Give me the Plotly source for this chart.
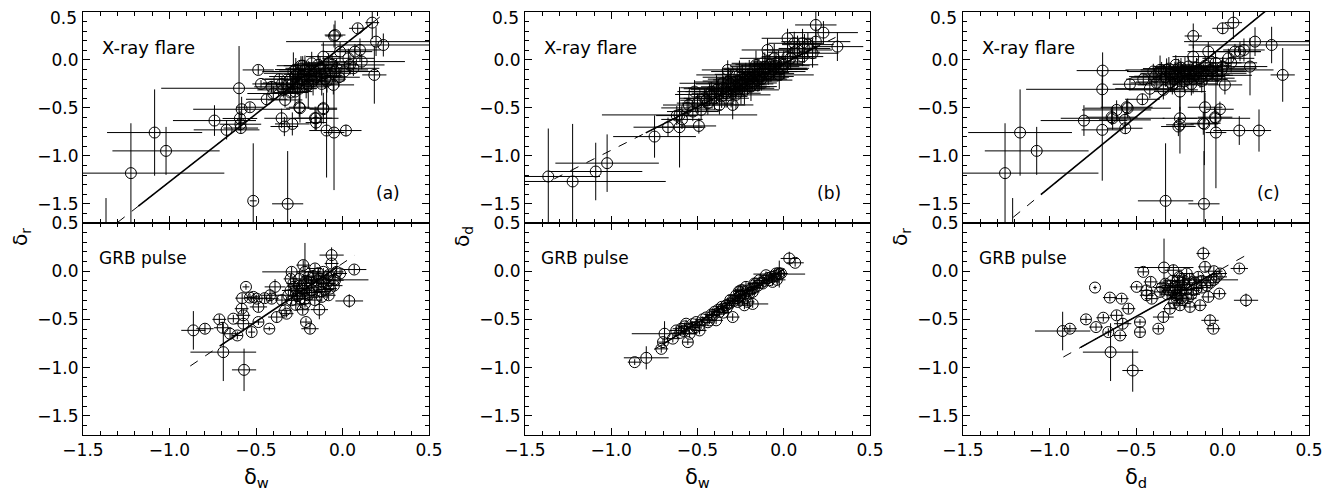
import plotly.graph_objects as go
from plotly.subplots import make_subplots

# ---------------- X-ray flares: panel (a) delta_w vs delta_r ----------------
fa_x = [-1.223, -1.086, -1.02, -1.367, -0.74, -0.67, -0.598, -0.593, -0.59, -0.588, -0.583, -0.535, -0.487, -0.516,
        -0.471, -0.438, -0.365, -0.352, -0.336, -0.317, -0.29, -0.25, -0.153, -0.153, -0.111, -0.092, -0.049, 0.02,
        -0.049, 0.088, 0.172, 0.194, 0.236, 0.184, 0.101, 0.111, 0.043, 0.063,
        -0.342, -0.332, -0.284, -0.274, -0.255, -0.236, -0.217, -0.188, -0.178, -0.159, -0.13, -0.111, -0.101, -0.072,
        -0.043, -0.034, -0.014, 0.034, 0.072, -0.274, -0.198, -0.053, -0.246, -0.159, -0.111, -0.043, -0.30, -0.26,
        -0.22, -0.20, -0.15, -0.10, -0.32, -0.24, -0.08, -0.12, -0.40, -0.41, 0.01,
        -0.29, -0.27, -0.25, -0.23, -0.21, -0.19, -0.17, -0.14, -0.12, -0.09, -0.06, -0.02, -0.35, -0.30]
fa_y = [-1.18, -0.757, -0.948, -1.95, -0.632, -0.729, -0.295, -0.61, -0.67, -0.71, -0.514, -0.493, -0.104, -1.469,
        -0.25, -0.41, -0.201, -0.608, -0.694, -1.50, -0.667, -0.493, -0.608, -0.653, -0.503, -0.736, -0.757, -0.736,
        0.25, 0.33, 0.389, 0.191, 0.156, -0.156, 0.104, -0.017, -0.052, -0.087,
        -0.312, -0.417, -0.121, -0.173, -0.139, -0.208, -0.104, -0.173, -0.035, -0.121, -0.087, 0.035, -0.139, -0.104,
        -0.121, -0.087, 0.087, 0.017, 0.087, -0.33, -0.26, -0.26, -0.503, -0.607, -0.514, 0.26, -0.20, -0.24,
        -0.15, -0.22, -0.18, -0.20, -0.26, -0.06, -0.03, -0.25, -0.35, -0.28, -0.12,
        -0.25, -0.10, -0.30, -0.06, -0.28, -0.12, -0.22, -0.05, -0.16, -0.22, -0.05, -0.18, -0.25, -0.34]
fa_xe = [0.54, 0.275, 0.31, 0.30, 0.24, 0.19, 0.45, 0.10, 0.12, 0.10, 0.28, 0.08, 0.09, 0.02,
         0.05, 0.12, 0.10, 0.10, 0.08, 0.09, 0.10, 0.06, 0.13, 0.06, 0.08, 0.10, 0.06, 0.09,
         0.05, 0.05, 0.04, 0.52, 0.36, 0.07, 0.12, 0.25, 0.20, 0.15,
         0.15, 0.10, 0.18, 0.15, 0.20, 0.12, 0.15, 0.18, 0.08, 0.25, 0.20, 0.10, 0.15, 0.22,
         0.25, 0.12, 0.10, 0.15, 0.10, 0.10, 0.15, 0.12, 0.08, 0.10, 0.08, 0.06, 0.15, 0.20,
         0.12, 0.10, 0.15, 0.12, 0.12, 0.10, 0.12, 0.10, 0.15, 0.10, 0.15,
         0.15, 0.12, 0.10, 0.15, 0.12, 0.20, 0.10, 0.15, 0.12, 0.10, 0.15, 0.12, 0.12, 0.10]
fa_ye = [0.52, 0.45, 0.25, 0.51, 0.16, 0.10, 0.44, 0.08, 0.07, 0.06, 0.13, 0.05, 0.05, 0.60,
         0.04, 0.06, 0.06, 0.10, 0.10, 0.55, 0.12, 0.10, 0.12, 0.08, 0.16, 0.49, 0.60, 0.06,
         0.12, 0.05, 0.17, 0.15, 0.12, 0.30, 0.12, 0.08, 0.10, 0.08,
         0.08, 0.08, 0.20, 0.08, 0.10, 0.10, 0.15, 0.12, 0.12, 0.10, 0.12, 0.15, 0.10, 0.08,
         0.12, 0.10, 0.10, 0.10, 0.08, 0.15, 0.25, 0.10, 0.15, 0.12, 0.08, 0.15, 0.10, 0.12,
         0.15, 0.10, 0.08, 0.10, 0.08, 0.10, 0.10, 0.12, 0.08, 0.06, 0.10,
         0.10, 0.12, 0.15, 0.10, 0.12, 0.10, 0.15, 0.10, 0.08, 0.12, 0.10, 0.10, 0.08, 0.10]

# ---------------- X-ray flares: panel (b) delta_w vs delta_d ----------------
fb_x = [-1.365, -1.224, -1.09, -1.024, -0.749, -0.671, -0.604, -0.604, -0.59, -0.517, -0.492, -0.527, -0.479, -0.44,
        -0.402, -0.373, -0.354, -0.334, -0.325, -0.305, -0.296, -0.277, -0.257, -0.248, -0.228, -0.209, -0.19, -0.171,
        -0.161, -0.142, -0.122, -0.103, -0.094, -0.074, -0.055, -0.045, -0.026, -0.016, 0.022, 0.022, 0.061, 0.08,
        0.109, 0.109, 0.167, 0.186, 0.186, 0.23, 0.311,
        -0.38, -0.36, -0.32, -0.28, -0.24, -0.20, -0.18, -0.15, -0.13, -0.08, -0.06, -0.42, -0.46, -0.56,
        -0.45, -0.43, -0.39, -0.35, -0.33, -0.31, -0.29, -0.27, -0.26, -0.24, -0.22, -0.21, -0.19, -0.17,
        -0.15, -0.12, -0.11, -0.09, -0.05, -0.03, 0.00, 0.04, 0.06, 0.12, 0.14, -0.50, -0.55, -0.62]
fb_y = [-1.215, -1.267, -1.163, -1.076, -0.799, -0.701, -0.701, -0.573, -0.62, -0.33, -0.688, -0.538, -0.521, -0.451,
        -0.399, -0.469, -0.243, -0.347, -0.104, -0.295, -0.469, -0.364, -0.156, -0.26, -0.312, -0.208, -0.278, -0.121,
        -0.052, -0.173, -0.035, -0.087, 0.104, -0.121, 0.017, -0.035, -0.156, -0.087, 0.035, 0.226, 0.174, 0.104,
        0.174, 0.035, 0.07, 0.191, 0.365, 0.285, 0.139,
        -0.30, -0.38, -0.23, -0.28, -0.20, -0.15, -0.22, -0.10, -0.20, -0.05, -0.10, -0.33, -0.40, -0.50,
        -0.42, -0.36, -0.31, -0.29, -0.33, -0.25, -0.32, -0.22, -0.30, -0.24, -0.18, -0.25, -0.19, -0.17,
        -0.21, -0.13, -0.07, -0.14, -0.06, -0.02, -0.05, 0.02, 0.08, 0.12, 0.16, -0.45, -0.47, -0.58]
fb_xe = [0.30, 0.54, 0.27, 0.30, 0.24, 0.20, 0.15, 0.45, 0.12, 0.10, 0.10, 0.15, 0.12, 0.15,
         0.20, 0.15, 0.25, 0.20, 0.15, 0.25, 0.12, 0.20, 0.25, 0.15, 0.20, 0.20, 0.15, 0.25,
         0.15, 0.20, 0.18, 0.25, 0.15, 0.20, 0.20, 0.15, 0.20, 0.15, 0.15, 0.15, 0.15, 0.20,
         0.12, 0.12, 0.15, 0.20, 0.12, 0.20, 0.15,
         0.20, 0.15, 0.20, 0.20, 0.20, 0.20, 0.15, 0.20, 0.15, 0.20, 0.20, 0.15, 0.12, 0.15,
         0.15, 0.20, 0.15, 0.25, 0.15, 0.20, 0.15, 0.20, 0.15, 0.20, 0.25, 0.15, 0.20, 0.15,
         0.20, 0.15, 0.20, 0.15, 0.20, 0.15, 0.20, 0.15, 0.15, 0.15, 0.15, 0.12, 0.15, 0.12]
fb_ye = [0.50, 0.60, 0.30, 0.30, 0.22, 0.10, 0.42, 0.25, 0.10, 0.12, 0.08, 0.10, 0.10, 0.12,
         0.12, 0.10, 0.15, 0.15, 0.10, 0.20, 0.15, 0.15, 0.15, 0.20, 0.15, 0.12, 0.15, 0.12,
         0.15, 0.15, 0.12, 0.12, 0.12, 0.10, 0.15, 0.12, 0.15, 0.12, 0.15, 0.10, 0.12, 0.15,
         0.15, 0.10, 0.15, 0.15, 0.15, 0.12, 0.15,
         0.10, 0.12, 0.15, 0.12, 0.15, 0.15, 0.10, 0.12, 0.12, 0.10, 0.10, 0.10, 0.10, 0.10,
         0.10, 0.12, 0.15, 0.12, 0.10, 0.15, 0.12, 0.15, 0.10, 0.12, 0.15, 0.12, 0.10, 0.15,
         0.12, 0.10, 0.15, 0.12, 0.10, 0.12, 0.15, 0.12, 0.12, 0.15, 0.12, 0.10, 0.12, 0.10]

# ---------------- X-ray flares: panel (c) delta_d vs delta_r ----------------
fc_x = [-1.257, -1.17, -1.074, -1.213, -0.801, -0.693, -0.695, -0.695, -0.635, -0.612, -0.564, -0.562, -0.548, -0.535,
        -0.458, -0.463, -0.39, -0.361, -0.323, -0.329, -0.246, -0.246, -0.169, -0.107, -0.101, -0.105, -0.038, -0.015,
        -0.04, 0.014, 0.001, 0.063, 0.097, 0.188, 0.284, 0.348, 0.211, 0.159, 0.124,
        -0.352, -0.304, -0.275, -0.255, -0.236, -0.217, -0.198, -0.169, -0.159, -0.14, -0.111, -0.082, -0.072, -0.053,
        -0.005, 0.034, 0.072, 0.101, -0.342, -0.246, -0.554, -0.641, -0.255, -0.111, -0.043, -0.30, -0.28, -0.20,
        -0.18, -0.13, -0.10, -0.27, -0.38, -0.42, -0.03, 0.05,
        -0.33, -0.31, -0.29, -0.26, -0.24, -0.22, -0.19, -0.17, -0.15, -0.12, -0.09, -0.06, -0.04, 0.00, -0.40]
fc_y = [-1.18, -0.757, -0.948, -1.95, -0.632, -0.111, -0.306, -0.729, -0.608, -0.521, -0.625, -0.712, -0.503, -0.253,
        -0.201, -0.41, -0.174, -0.104, -0.104, -1.469, -0.676, -0.608, 0.25, -1.50, -0.493, -0.667, -0.757, -0.514,
        -0.608, -0.26, 0.33, 0.389, -0.736, 0.191, 0.156, -0.156, -0.736, -0.069, 0.104,
        -0.121, -0.156, -0.139, -0.087, -0.173, -0.121, -0.069, 0.035, -0.156, -0.104, -0.139, 0.087, -0.104, -0.087,
        -0.104, 0.017, 0.087, 0.087, -0.312, -0.33, -0.493, -0.597, -0.694, -0.66, -0.597, -0.23, -0.20, -0.20,
        -0.25, -0.19, -0.06, -0.05, -0.24, -0.30, -0.16, -0.03,
        -0.18, -0.09, -0.26, -0.17, -0.08, -0.22, -0.14, -0.20, -0.08, -0.22, -0.16, -0.12, -0.03, -0.07, -0.12]
fc_xe = [0.54, 0.30, 0.30, 0.30, 0.25, 0.15, 0.44, 0.12, 0.30, 0.20, 0.15, 0.10, 0.25, 0.10,
         0.10, 0.10, 0.15, 0.20, 0.15, 0.16, 0.08, 0.10, 0.05, 0.09, 0.10, 0.08, 0.06, 0.08,
         0.20, 0.10, 0.06, 0.05, 0.15, 0.41, 0.48, 0.07, 0.07, 0.10, 0.12,
         0.20, 0.15, 0.20, 0.15, 0.25, 0.15, 0.20, 0.12, 0.20, 0.15, 0.25, 0.12, 0.20, 0.25,
         0.30, 0.15, 0.15, 0.12, 0.20, 0.15, 0.15, 0.15, 0.10, 0.10, 0.10, 0.20, 0.15, 0.20,
         0.15, 0.20, 0.15, 0.10, 0.15, 0.20, 0.20, 0.15,
         0.20, 0.15, 0.20, 0.25, 0.15, 0.20, 0.15, 0.20, 0.15, 0.20, 0.15, 0.20, 0.15, 0.20, 0.15]
fc_ye = [0.52, 0.45, 0.25, 0.51, 0.16, 0.19, 0.20, 0.53, 0.12, 0.10, 0.08, 0.06, 0.10, 0.06,
         0.06, 0.06, 0.08, 0.15, 0.12, 0.60, 0.30, 0.12, 0.13, 0.55, 0.15, 0.43, 0.58, 0.08,
         0.10, 0.10, 0.06, 0.17, 0.15, 0.15, 0.19, 0.28, 0.22, 0.30, 0.12,
         0.10, 0.10, 0.12, 0.10, 0.12, 0.15, 0.10, 0.12, 0.10, 0.12, 0.10, 0.10, 0.10, 0.10,
         0.10, 0.10, 0.08, 0.10, 0.10, 0.20, 0.08, 0.08, 0.10, 0.12, 0.10, 0.10, 0.12, 0.10,
         0.12, 0.10, 0.10, 0.10, 0.08, 0.10, 0.10, 0.10,
         0.10, 0.12, 0.10, 0.12, 0.10, 0.12, 0.10, 0.15, 0.10, 0.12, 0.10, 0.10, 0.12, 0.10, 0.08]

# ---------------- GRB pulses: panel (a) delta_w vs delta_r ----------------
ga_x = [-0.862, -0.795, -0.712, -0.693, -0.689, -0.65, -0.631, -0.608, -0.583, -0.573, -0.573, -0.569, -0.558, -0.535,
        -0.525, -0.515, -0.496, -0.486, -0.486, -0.423, -0.419, -0.409, -0.39, -0.38, -0.332, -0.323, -0.313, -0.294,
        -0.294, -0.284, -0.265, -0.246, -0.227, -0.217, -0.217, -0.211, -0.207, -0.197, -0.188, -0.178, -0.159, -0.149,
        -0.14, -0.134, -0.12, -0.111, -0.091, -0.082, -0.072, -0.063, -0.063, -0.043, -0.034, -0.014, 0.039, 0.068,
        -0.30, -0.25, -0.24, -0.20, -0.18, -0.16, -0.13, -0.10, -0.27, -0.23, -0.05,
        -0.28, -0.26, -0.25, -0.23, -0.22, -0.21, -0.19, -0.17, -0.16, -0.14, -0.12, -0.11, -0.09, -0.08,
        -0.05, -0.30, -0.35, -0.45, -0.58]
ga_y = [-0.614, -0.597, -0.5, -0.587, -0.84, -0.649, -0.493, -0.667, -0.389, -0.458, -0.545, -1.024, -0.163, -0.274,
        -0.632, -0.267, -0.285, -0.371, -0.528, -0.597, -0.25, -0.285, -0.163, -0.476, -0.406, -0.441, -0.25, -0.007,
        -0.302, -0.128, -0.198, -0.285, 0.063, -0.007, -0.337, -0.528, -0.128, -0.059, -0.597, -0.198, 0.028, -0.094,
        -0.163, -0.399, -0.267, -0.007, -0.128, -0.042, -0.181, 0.167, 0.08, -0.094, -0.007, -0.024, -0.309, 0.017,
        -0.20, -0.15, -0.23, -0.25, -0.12, -0.22, -0.08, -0.19, -0.35, -0.40, -0.09,
        -0.16, -0.26, -0.08, -0.18, -0.29, -0.10, -0.22, -0.05, -0.30, -0.02, -0.21, -0.12, -0.06, -0.25,
        -0.15, -0.08, -0.30, -0.28, -0.28]
ga_xe = [0.07, 0.05, 0.04, 0.05, 0.19, 0.04, 0.03, 0.03, 0.04, 0.04, 0.05, 0.07, 0.02, 0.03,
         0.02, 0.03, 0.04, 0.05, 0.03, 0.03, 0.05, 0.04, 0.06, 0.05, 0.04, 0.04, 0.06, 0.17,
         0.04, 0.04, 0.05, 0.04, 0.04, 0.05, 0.03, 0.03, 0.05, 0.04, 0.05, 0.04, 0.04, 0.04,
         0.04, 0.05, 0.04, 0.04, 0.05, 0.04, 0.04, 0.07, 0.04, 0.05, 0.04, 0.04, 0.08, 0.07,
         0.05, 0.04, 0.05, 0.04, 0.04, 0.05, 0.04, 0.05, 0.04, 0.04, 0.20,
         0.04, 0.05, 0.04, 0.04, 0.05, 0.04, 0.04, 0.05, 0.04, 0.04, 0.05, 0.04, 0.04, 0.04,
         0.05, 0.04, 0.04, 0.04, 0.04]
ga_ye = [0.20, 0.05, 0.05, 0.06, 0.30, 0.05, 0.04, 0.04, 0.05, 0.06, 0.08, 0.22, 0.03, 0.04,
         0.05, 0.04, 0.04, 0.05, 0.03, 0.02, 0.06, 0.05, 0.08, 0.06, 0.05, 0.04, 0.06, 0.05,
         0.04, 0.05, 0.06, 0.05, 0.05, 0.30, 0.04, 0.04, 0.06, 0.06, 0.05, 0.05, 0.05, 0.05,
         0.05, 0.10, 0.05, 0.04, 0.05, 0.05, 0.04, 0.08, 0.05, 0.05, 0.04, 0.05, 0.07, 0.05,
         0.05, 0.06, 0.05, 0.05, 0.06, 0.05, 0.05, 0.06, 0.05, 0.05, 0.05,
         0.05, 0.06, 0.05, 0.05, 0.06, 0.05, 0.05, 0.06, 0.05, 0.05, 0.06, 0.05, 0.05, 0.05,
         0.05, 0.05, 0.05, 0.05, 0.05]

# ---------------- GRB pulses: panel (b) delta_w vs delta_d ----------------
gb_x = [-0.864, -0.797, -0.71, -0.70, -0.691, -0.643, -0.623, -0.594, -0.575, -0.566, -0.556, -0.546, -0.527, -0.508,
        -0.488, -0.488, -0.431, -0.411, -0.392, -0.373, -0.354, -0.334, -0.296, -0.315, -0.296, -0.276, -0.266, -0.257,
        -0.248, -0.238, -0.228, -0.219, -0.209, -0.2, -0.18, -0.17, -0.161, -0.142, -0.122, -0.103, -0.084, -0.065,
        -0.045, -0.016, 0.032, 0.066, -0.026, -0.18, -0.04,
        -0.60, -0.58, -0.53, -0.51, -0.47, -0.45, -0.42, -0.40, -0.38, -0.36, -0.33, -0.31, -0.29, -0.27,
        -0.25, -0.23, -0.21, -0.19, -0.17, -0.15, -0.13, -0.11, -0.09, -0.07, -0.05, -0.03, -0.22, -0.26,
        -0.35, -0.44]
gb_y = [-0.944, -0.899, -0.806, -0.736, -0.649, -0.70, -0.615, -0.597, -0.573, -0.545, -0.736, -0.649, -0.587, -0.528,
        -0.562, -0.615, -0.51, -0.458, -0.51, -0.424, -0.389, -0.354, -0.476, -0.337, -0.302, -0.25, -0.319, -0.267,
        -0.198, -0.198, -0.354, -0.163, -0.319, -0.233, -0.215, -0.128, -0.128, -0.094, -0.128, -0.042, -0.094, -0.111,
        -0.024, -0.024, 0.132, 0.087, -0.03, -0.34, -0.09,
        -0.64, -0.62, -0.55, -0.58, -0.50, -0.48, -0.45, -0.42, -0.40, -0.37, -0.38, -0.30, -0.31, -0.28,
        -0.25, -0.24, -0.20, -0.19, -0.17, -0.15, -0.12, -0.10, -0.07, -0.06, -0.05, -0.02, -0.28, -0.21,
        -0.43, -0.53]
gb_xe = [0.04, 0.13, 0.04, 0.03, 0.19, 0.04, 0.04, 0.05, 0.04, 0.04, 0.03, 0.04, 0.04, 0.04,
         0.04, 0.04, 0.04, 0.04, 0.04, 0.05, 0.04, 0.04, 0.04, 0.04, 0.04, 0.05, 0.04, 0.04,
         0.04, 0.04, 0.04, 0.05, 0.04, 0.04, 0.04, 0.04, 0.04, 0.04, 0.04, 0.04, 0.04, 0.04,
         0.04, 0.04, 0.05, 0.05, 0.15, 0.09, 0.05,
         0.04, 0.03, 0.04, 0.03, 0.04, 0.03, 0.04, 0.03, 0.04, 0.03, 0.04, 0.03, 0.04, 0.03,
         0.04, 0.03, 0.04, 0.03, 0.04, 0.03, 0.04, 0.03, 0.04, 0.03, 0.04, 0.03, 0.04, 0.03,
         0.04, 0.03]
gb_ye = [0.03, 0.12, 0.04, 0.04, 0.13, 0.04, 0.04, 0.04, 0.04, 0.04, 0.03, 0.04, 0.04, 0.04,
         0.04, 0.04, 0.04, 0.04, 0.04, 0.04, 0.04, 0.04, 0.04, 0.04, 0.04, 0.04, 0.04, 0.04,
         0.04, 0.04, 0.04, 0.05, 0.04, 0.04, 0.04, 0.04, 0.04, 0.04, 0.04, 0.04, 0.04, 0.04,
         0.04, 0.04, 0.07, 0.04, 0.14, 0.04, 0.04,
         0.03, 0.04, 0.03, 0.04, 0.03, 0.04, 0.03, 0.04, 0.03, 0.04, 0.03, 0.04, 0.03, 0.04,
         0.03, 0.04, 0.03, 0.04, 0.03, 0.04, 0.03, 0.04, 0.03, 0.04, 0.03, 0.04, 0.03, 0.04,
         0.03, 0.04]

# ---------------- GRB pulses: panel (c) delta_d vs delta_r ----------------
gc_x = [-0.924, -0.882, -0.789, -0.731, -0.737, -0.689, -0.66, -0.647, -0.651, -0.612, -0.592, -0.583, -0.577, -0.544,
        -0.519, -0.496, -0.477, -0.477, -0.458, -0.438, -0.415, -0.409, -0.371, -0.361, -0.342, -0.338, -0.304, -0.284,
        -0.275, -0.265, -0.25, -0.246, -0.226, -0.207, -0.188, -0.169, -0.14, -0.13, -0.111, -0.101, -0.082, -0.072,
        -0.053, -0.034, -0.018, -0.014, 0.097, 0.136,
        -0.30, -0.26, -0.24, -0.22, -0.28, -0.20, -0.16, -0.12, -0.32, -0.23, -0.05,
        -0.33, -0.31, -0.29, -0.27, -0.26, -0.25, -0.24, -0.23, -0.21, -0.19, -0.18, -0.15, -0.12, -0.09,
        -0.07, -0.28, -0.35, -0.44, -0.05]
gc_y = [-0.621, -0.597, -0.5, -0.58, -0.17, -0.483, -0.632, -0.84, -0.274, -0.458, -0.667, -0.285, -0.545, -0.389,
        -1.031, -0.163, -0.528, -0.632, -0.007, -0.25, -0.111, -0.285, -0.597, -0.215, -0.476, 0.038, -0.389, 0.01,
        -0.163, -0.285, -0.233, -0.354, -0.094, -0.024, -0.371, -0.198, -0.059, -0.354, 0.184, 0.045, -0.267, -0.51,
        -0.597, -0.059, -0.233, -0.024, 0.028, -0.302,
        -0.15, -0.10, -0.20, -0.14, -0.22, -0.28, -0.12, -0.17, -0.24, -0.30, -0.09,
        -0.13, -0.20, -0.10, -0.25, -0.17, -0.06, -0.28, -0.12, -0.19, -0.08, -0.24, -0.18, -0.10, -0.15,
        -0.12, -0.33, -0.17, -0.20, 0.00]
gc_xe = [0.16, 0.04, 0.03, 0.04, 0.01, 0.04, 0.02, 0.16, 0.04, 0.04, 0.04, 0.04, 0.05, 0.04,
         0.06, 0.04, 0.03, 0.03, 0.03, 0.04, 0.04, 0.04, 0.03, 0.05, 0.06, 0.17, 0.04, 0.05,
         0.05, 0.05, 0.05, 0.04, 0.05, 0.04, 0.04, 0.04, 0.05, 0.04, 0.04, 0.04, 0.04, 0.05,
         0.04, 0.06, 0.04, 0.04, 0.05, 0.07,
         0.05, 0.05, 0.04, 0.05, 0.04, 0.05, 0.04, 0.05, 0.04, 0.04, 0.14,
         0.05, 0.04, 0.05, 0.04, 0.05, 0.04, 0.05, 0.04, 0.05, 0.04, 0.05, 0.04, 0.05, 0.04,
         0.05, 0.04, 0.05, 0.04, 0.05]
gc_ye = [0.20, 0.04, 0.04, 0.04, 0.02, 0.04, 0.04, 0.30, 0.04, 0.05, 0.04, 0.04, 0.06, 0.05,
         0.22, 0.03, 0.03, 0.05, 0.04, 0.05, 0.05, 0.05, 0.04, 0.05, 0.06, 0.30, 0.05, 0.06,
         0.05, 0.06, 0.05, 0.05, 0.06, 0.05, 0.05, 0.05, 0.05, 0.05, 0.07, 0.05, 0.05, 0.06,
         0.04, 0.05, 0.04, 0.05, 0.04, 0.07,
         0.05, 0.05, 0.05, 0.05, 0.05, 0.05, 0.05, 0.05, 0.05, 0.05, 0.05,
         0.05, 0.06, 0.05, 0.06, 0.05, 0.06, 0.05, 0.06, 0.05, 0.06, 0.05, 0.06, 0.05, 0.06,
         0.05, 0.06, 0.05, 0.06, 0.05]

# ---------------- fitted lines: y = intercept + slope * x ----------------
fit_intercept = [0.143, -0.036, 0.143, 0.080, 0.020, 0.029]
fit_slope = [1.413, 0.905, 1.474, 1.209, 1.109, 1.000]
fit_dash_range = [(-1.30, 0.26), (-1.33, 0.30), (-1.21, 0.25), (-0.88, 0.07), (-0.75, 0.05), (-0.92, 0.14)]
fit_solid_range = [(-1.18, 0.17), (-0.80, 0.20), (-1.05, 0.25), (-0.71, -0.03), (-0.70, 0.00), (-0.82, -0.05)]

panel_letters = ["(a)", "(b)", "(c)"]
x_titles = ["δ<sub>w</sub>", "δ<sub>w</sub>", "δ<sub>d</sub>"]
y_titles = ["δ<sub>r</sub>", "δ<sub>d</sub>", "δ<sub>r</sub>"]
x_ticks = [-1.5, -1.0, -0.5, 0.0, 0.5]
y_ticks = [-1.5, -1.0, -0.5, 0.0, 0.5]

panels = [
    (1, 1, fa_x, fa_y, fa_xe, fa_ye), (1, 2, fb_x, fb_y, fb_xe, fb_ye), (1, 3, fc_x, fc_y, fc_xe, fc_ye),
    (2, 1, ga_x, ga_y, ga_xe, ga_ye), (2, 2, gb_x, gb_y, gb_xe, gb_ye), (2, 3, gc_x, gc_y, gc_xe, gc_ye),
]

# the page body adds an 8 px offset; work in screenshot pixels and convert
OFF = 8
W, H = 1334 - OFF, 496 - OFF
col_px = [(83, 429), (525, 870), (963, 1309)]
top_px, mid_px, bot_px = 12, 223, 435


def px_x(p):
    return (p - OFF) / W


def px_y(p):
    return 1 - (p - OFF) / H


def fmt(v):
    return f"{v:.1f}".replace("-", "\u2212")


fig = make_subplots(rows=2, cols=3)
FONT = "DejaVu Sans"

for i, (r, c, x, y, xe, ye) in enumerate(panels):
    fig.add_trace(go.Scatter(
        x=x, y=y, mode="markers",
        marker=dict(symbol="circle-open", size=11, color="black", line=dict(width=1, color="black")),
        error_x=dict(type="data", array=xe, visible=True, color="black", thickness=1, width=0),
        error_y=dict(type="data", array=ye, visible=True, color="black", thickness=1, width=0),
        showlegend=False, hoverinfo="skip"), row=r, col=c)
    b, a = fit_slope[i], fit_intercept[i]
    d0, d1 = fit_dash_range[i]
    s0, s1 = fit_solid_range[i]
    fig.add_trace(go.Scatter(x=[d0, d1], y=[a + b * d0, a + b * d1], mode="lines",
                             line=dict(color="black", width=1, dash="dash"),
                             showlegend=False, hoverinfo="skip"), row=r, col=c)
    fig.add_trace(go.Scatter(x=[s0, s1], y=[a + b * s0, a + b * s1], mode="lines",
                             line=dict(color="black", width=1.6),
                             showlegend=False, hoverinfo="skip"), row=r, col=c)

axis_common = dict(showgrid=False, zeroline=False, showline=True, linecolor="black", linewidth=1,
                   ticks="inside", ticklen=7, tickcolor="black", tickwidth=1, mirror="allticks",
                   automargin=False, tickfont=dict(family=FONT, size=17, color="black"))

for r in (1, 2):
    for c in (1, 2, 3):
        x0, x1 = col_px[c - 1]
        if r == 1:
            ydom = [px_y(mid_px), px_y(top_px)]
            # the topmost label is drawn separately, nudged down inside the figure
            yt_text = [fmt(v) if v < 0.5 else "" for v in y_ticks]
        else:
            ydom = [px_y(bot_px), px_y(mid_px)]
            yt_text = [fmt(v) for v in y_ticks]
        fig.update_xaxes(range=[-1.5, 0.5], domain=[px_x(x0), px_x(x1)], tickmode="array", tickvals=x_ticks,
                         ticktext=[fmt(v) for v in x_ticks],
                         showticklabels=(r == 2),
                         minor=dict(tickmode="linear", tick0=0, dtick=0.1, ticks="inside", ticklen=4,
                                    tickcolor="black", showgrid=False),
                         row=r, col=c, **axis_common)
        fig.update_yaxes(range=[-1.7, 0.5], domain=ydom, tickmode="array", tickvals=y_ticks,
                         ticktext=yt_text,
                         minor=dict(tickmode="linear", tick0=0, dtick=0.1, ticks="inside", ticklen=4,
                                    tickcolor="black", showgrid=False),
                         row=r, col=c, **axis_common)

ann = []
for c in range(3):
    x0, x1 = col_px[c]
    ann.append(dict(text=fmt(y_ticks[-1]), x=px_x(x0 - 4), y=px_y(18), xref="paper", yref="paper",
                    xanchor="right", yanchor="middle", showarrow=False,
                    font=dict(family=FONT, size=17, color="black")))
    ann.append(dict(text="X-ray flare", x=px_x(x0 + 17), y=px_y(47), xref="paper", yref="paper",
                    xanchor="left", yanchor="middle", showarrow=False,
                    font=dict(family=FONT, size=18, color="black")))
    ann.append(dict(text="GRB pulse", x=px_x(x0 + 14), y=px_y(258), xref="paper", yref="paper",
                    xanchor="left", yanchor="middle", showarrow=False,
                    font=dict(family=FONT, size=17, color="black")))
    ann.append(dict(text=panel_letters[c], x=px_x(x1 - 41), y=px_y(193), xref="paper", yref="paper",
                    xanchor="center", yanchor="middle", showarrow=False,
                    font=dict(family=FONT, size=17, color="black")))
    ann.append(dict(text=x_titles[c], x=px_x((x0 + x1) / 2), y=px_y(478), xref="paper", yref="paper",
                    xanchor="center", yanchor="middle", showarrow=False,
                    font=dict(family=FONT, size=21, color="black")))
    ann.append(dict(text=y_titles[c], x=px_x(x0 - 62), y=px_y(237), xref="paper", yref="paper",
                    xanchor="center", yanchor="middle", showarrow=False, textangle=-90,
                    font=dict(family=FONT, size=20, color="black")))

fig.update_layout(width=W, height=H, margin=dict(l=0, r=0, t=0, b=0, autoexpand=False),
                  plot_bgcolor="white", paper_bgcolor="white", annotations=ann,
                  font=dict(family=FONT, color="black"))

fig.write_html("out.html")
